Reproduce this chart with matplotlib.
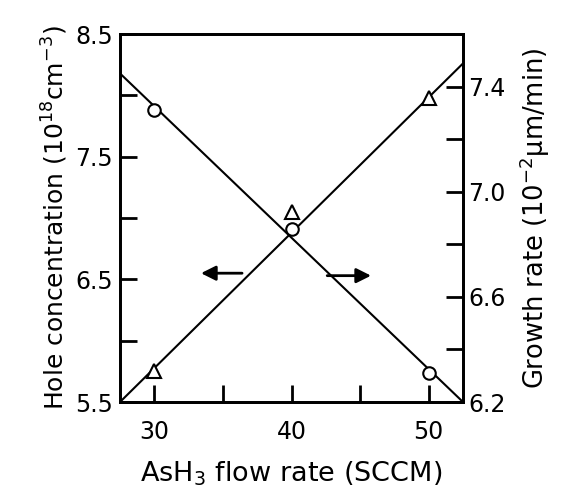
import numpy as np
import matplotlib
matplotlib.use("Agg")
import matplotlib.pyplot as plt
from matplotlib.ticker import FixedLocator

flow = [30, 40, 50]
hole_conc = [5.75, 7.05, 7.98]      # triangles, left axis
growth_rate = [7.31, 6.86, 6.31]    # circles, right axis
fit_x = [27.5, 52.5]
hole_fit = [5.5, 8.26]
growth_fit = [7.45, 6.2]
x_ticks = [30, 40, 50]
left_ticks = [5.5, 6.5, 7.5, 8.5]
right_ticks = [6.2, 6.6, 7.0, 7.4]

plt.rcParams['font.family'] = ['DejaVu Sans']
fig = plt.figure(figsize=(5.74, 4.91), dpi=100)
ax = fig.add_axes([120/574, 1-402/491, (463-120)/574, (402-34)/491])
ax2 = ax.twinx()

ax.plot(fit_x, hole_fit, color='black', lw=1.5, zorder=2)
ax.plot(flow, hole_conc, ls='none', marker='^', ms=10, mfc='white', mec='black', mew=1.5, zorder=3)
ax2.plot(fit_x, growth_fit, color='black', lw=1.5, zorder=2)
ax2.plot(flow, growth_rate, ls='none', marker='o', ms=9, mfc='white', mec='black', mew=1.5, zorder=3)

ax.set_xlim(27.5, 52.5)
ax.set_ylim(5.5, 8.5)
ax2.set_ylim(6.2, 7.6)

ax.set_xticks(x_ticks)
ax.xaxis.set_minor_locator(FixedLocator([35, 45]))
ax.set_yticks(left_ticks)
ax.set_yticklabels([f"{v:.1f}" for v in left_ticks])
ax.yaxis.set_minor_locator(FixedLocator([6.0, 7.0, 8.0]))
ax2.set_yticks(right_ticks)
ax2.set_yticklabels([f"{v:.1f}" for v in right_ticks])
ax2.yaxis.set_minor_locator(FixedLocator([6.4, 6.8, 7.2]))

for a in (ax, ax2):
    for s in a.spines.values():
        s.set_linewidth(2)
    a.tick_params(which='both', direction='in', length=12, width=2, labelsize=17, pad=6)
ax.tick_params(axis='x', pad=13)
ax.tick_params(axis='y', pad=5)
ax2.tick_params(axis='y', pad=4)

ax.set_xlabel('AsH$_3$ flow rate (SCCM)', fontsize=19.5, labelpad=11)
ax.set_ylabel('Hole concentration (10$^{18}$cm$^{-3}$)', fontsize=18, labelpad=4)
ax2.set_ylabel('Growth rate (10$^{-2}$μm/min)', fontsize=18.5, labelpad=8, rotation=90)

ax.annotate('', xy=(33.2, 6.55), xytext=(36.6, 6.55),
            arrowprops=dict(arrowstyle='-|>', color='black', lw=2, mutation_scale=22))
ax.annotate('', xy=(46.0, 6.53), xytext=(42.4, 6.53),
            arrowprops=dict(arrowstyle='-|>', color='black', lw=2, mutation_scale=22))

fig.savefig('out.png', dpi=100)
